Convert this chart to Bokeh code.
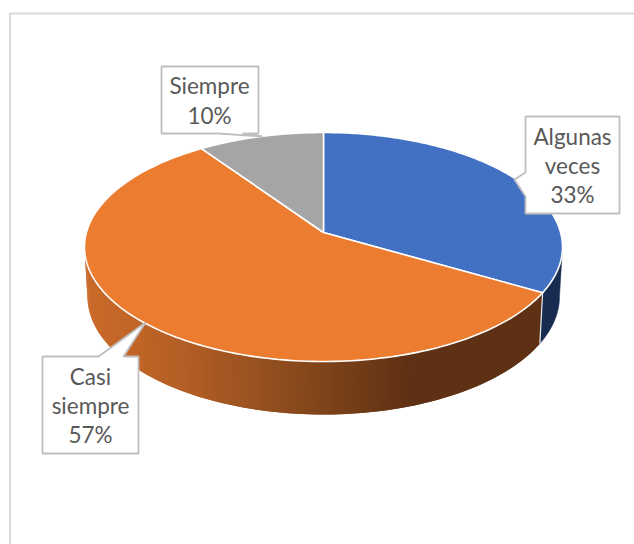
import numpy as np
from bokeh.plotting import figure
from bokeh.models import Range1d
from bokeh.core.properties import value
from bokeh.embed import file_html
from bokeh.resources import INLINE

# --- data -----------------------------------------------------------------
CATEGORIES = ["Algunas veces", "Casi siempre", "Siempre"]
VALUES = [33, 57, 10]
TOP_COLORS = ["#4270C2", "#EB7C30", "#A5A5A5"]
LABELS = ["Algunas\nveces\n33%", "Casi\nsiempre\n57%", "Siempre\n10%"]

# --- layout (page pixels) -------------------------------------------------
W, H = 634, 544
CX, CY, RX, RY = 323.0, 246.5, 239.0, 114.5      # top ellipse
BCY, BRX, BRY = 296.0, 236.0, 118.0              # lower rim of the side wall
APEX = (323.0, 232.0)                            # where the wedges meet
TILT = 0.5

# callout polygons
CALLOUTS = [
    [(525, 116), (619, 116), (619, 213), (525, 213), (525, 196), (514, 179), (525, 172)],
    [(42, 356), (98, 356), (145, 322), (123, 356), (138, 356), (138, 453), (42, 453)],
    [(161, 66), (258, 66), (258, 133), (242, 133), (262, 136), (218, 133), (161, 133)],
]
LABEL_XY = [(572, 165), (90, 405), (209, 100)]

GRAD_X = [85, 140, 200, 320, 410, 565]
GRAD_R = [0xCB, 0xBF, 0xAE, 0x80, 0x5F, 0x5F]
GRAD_G = [0x6B, 0x65, 0x5C, 0x45, 0x31, 0x31]
GRAD_B = [0x2B, 0x27, 0x24, 0x1B, 0x14, 0x14]
DARK_BLUE = "#182C52"


def rim_t(theta):
    """Ellipse parameter of the rim point a wedge boundary at angle theta reaches."""
    dx, dy = np.sin(theta), -TILT * np.cos(theta)
    ax, ay = (APEX[0] - CX) / RX, (APEX[1] - CY) / RY
    ux, uy = dx / RX, dy / RY
    a = ux * ux + uy * uy
    b = 2 * (ax * ux + ay * uy)
    c = ax * ax + ay * ay - 1
    s = (-b + np.sqrt(b * b - 4 * a * c)) / (2 * a)
    px, py = ax + s * ux, ay + s * uy
    return np.arctan2(px, -py) % (2 * np.pi)


def top_pt(t):
    return CX + RX * np.sin(t), CY - RY * np.cos(t)


def low_pt(t):
    return CX + BRX * np.sin(t), BCY - BRY * np.cos(t)


fractions = np.cumsum([0] + VALUES) / sum(VALUES)
angles = fractions * 2 * np.pi
ts = [rim_t(a) if 0 < a < 2 * np.pi else (0.0 if a == 0 else 2 * np.pi) for a in angles]

p = figure(width=W, height=H, output_backend="svg", toolbar_location=None,
           x_range=Range1d(0, W), y_range=Range1d(H, 0),
           min_border=0, outline_line_color=None)
p.axis.visible = False
p.grid.visible = False
p.background_fill_color = "white"
p.border_fill_color = "white"

# chart frame
p.line([9.5, 9.5, W], [H, 13, 13], line_color="#D9D9D9", line_width=2)

# side wall: dark blue part of the first slice
t_brk = ts[1]
tt = np.linspace(np.pi / 2, t_brk, 30)
xs = np.r_[top_pt(tt)[0], low_pt(tt[::-1])[0]]
ys = np.r_[top_pt(tt)[1], low_pt(tt[::-1])[1]]
p.patch(xs, ys, fill_color=DARK_BLUE, line_color=DARK_BLUE, line_width=0.5)

# side wall: orange slice, in overlapping strips to shade it
edges = np.linspace(3 * np.pi / 2, t_brk, 170)
sx, sy, sc = [], [], []
for a, b, far in zip(edges[:-1], edges[1:], np.r_[edges[2:], edges[-1]]):
    (x0, y0), (x1, y1) = top_pt(a), top_pt(far)
    (x2, y2), (x3, y3) = low_pt(far), low_pt(a)
    sx.append([x0, x1, x2, x3])
    sy.append([y0, y1, y2, y3])
    xm = (top_pt(a)[0] + top_pt(b)[0] + low_pt(a)[0] + low_pt(b)[0]) / 4
    sc.append("#%02X%02X%02X" % tuple(int(np.interp(xm, GRAD_X, g))
                                      for g in (GRAD_R, GRAD_G, GRAD_B)))
p.patches(sx, sy, fill_color=sc, line_color=None)

# pale seam between the two wall parts
(x0, y0), (x1, y1) = top_pt(t_brk), low_pt(t_brk)
p.line([x0, x1], [y0, y1], line_color="#E8ECF2", line_width=1.2)

# top face
for i, col in enumerate(TOP_COLORS):
    tt = np.linspace(ts[i], ts[i + 1], 160)
    px_, py_ = top_pt(tt)
    p.patch(np.r_[APEX[0], px_], np.r_[APEX[1], py_], fill_color=col,
            line_color="white", line_width=1.6, line_join="round")

# callouts
for poly in CALLOUTS:
    p.patch([q[0] for q in poly], [q[1] for q in poly], fill_color="white",
            line_color="#BFBFBF", line_width=1.8)

p.text([q[0] for q in LABEL_XY], [q[1] for q in LABEL_XY], text=LABELS,
       text_align="center", text_baseline="middle", text_color="#595959",
       text_font=value("Lato"), text_font_size="22.5px", text_line_height=1.08)

open("out.html", "w").write(file_html(p, INLINE))
